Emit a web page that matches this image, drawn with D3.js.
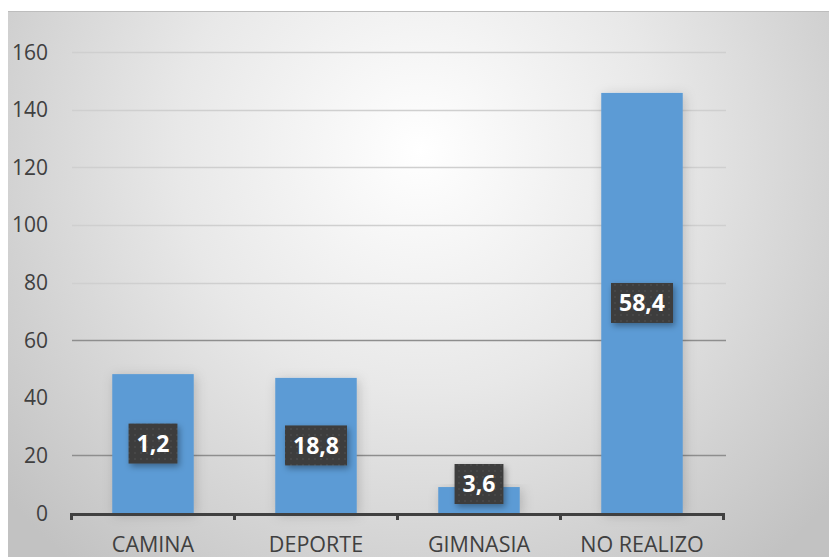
<!DOCTYPE html>
<html>
<head>
<meta charset="utf-8">
<script src="https://cdn.jsdelivr.net/npm/d3@7/dist/d3.min.js"></script>
<style>
html,body{margin:0;padding:0;background:#fff;}
svg{display:block;}
</style>
</head>
<body>
<svg id="chart" width="829" height="557"></svg>
<script>
const categories = ["CAMINA", "DEPORTE", "GIMNASIA", "NO REALIZO"];
const values = [48.2, 46.9, 9.0, 145.8];
const labels = ["1,2", "18,8", "3,6", "58,4"];
const yTicks = [0, 20, 40, 60, 80, 100, 120, 140, 160];
const gridTicks = [20, 60, 80, 100, 120, 140, 160];

const svg = d3.select("#chart");
const W = 829, H = 557;
const defs = svg.append("defs");

const grad = defs.append("radialGradient").attr("id", "bg")
  .attr("gradientUnits", "userSpaceOnUse")
  .attr("cx", 420).attr("cy", 150).attr("r", 540)
  .attr("fx", 420).attr("fy", 150);
grad.append("stop").attr("offset", "0%").attr("stop-color", "#ffffff");
grad.append("stop").attr("offset", "45%").attr("stop-color", "#e8e8e8");
grad.append("stop").attr("offset", "100%").attr("stop-color", "#c2c2c2");

const shadow = defs.append("filter").attr("id", "shadow")
  .attr("x", "-30%").attr("y", "-30%").attr("width", "170%").attr("height", "170%");
shadow.append("feDropShadow").attr("dx", 2).attr("dy", 3).attr("stdDeviation", 3)
  .attr("flood-color", "#000").attr("flood-opacity", 0.35);

const barShadow = defs.append("filter").attr("id", "barShadow")
  .attr("x", "-30%").attr("y", "-10%").attr("width", "160%").attr("height", "120%");
barShadow.append("feDropShadow").attr("dx", 2).attr("dy", 2).attr("stdDeviation", 6)
  .attr("flood-color", "#000").attr("flood-opacity", 0.18);

const pat = defs.append("pattern").attr("id", "dots").attr("patternUnits", "userSpaceOnUse")
  .attr("width", 6).attr("height", 6);
pat.append("rect").attr("width", 6).attr("height", 6).attr("fill", "#3c3c3c");
pat.append("circle").attr("cx", 3).attr("cy", 3).attr("r", 0.8).attr("fill", "#555");

// background
svg.append("rect").attr("x", 8).attr("y", 11).attr("width", W - 8).attr("height", H - 11)
  .attr("fill", "url(#bg)");
svg.append("line").attr("x1", 8).attr("x2", W).attr("y1", 11.5).attr("y2", 11.5)
  .attr("stroke", "#bdbdbd").attr("stroke-width", 1);

const x = d3.scaleBand().domain(categories).range([71.5, 723.5]).paddingInner(0.5).paddingOuter(0.25);
const y = d3.scaleLinear().domain([0, 160]).range([513, 52]);

const font = "'Open Sans', 'Noto Sans', sans-serif";

// gridlines
svg.append("g").selectAll("line").data(gridTicks).join("line")
  .attr("x1", 72).attr("x2", 726)
  .attr("y1", d => Math.round(y(d)) + 0.5).attr("y2", d => Math.round(y(d)) + 0.5)
  .attr("stroke", d => d <= 60 ? "#8e8e8e" : "#cfcfcf").attr("stroke-width", 1.4);

// y labels
svg.append("g").selectAll("text").data(yTicks).join("text")
  .attr("x", 48).attr("y", d => y(d)).attr("dy", "0.36em")
  .attr("text-anchor", "end").attr("fill", "#404040")
  .style("font-family", font).style("font-size", "21px")
  .text(d => d);

// bars
svg.append("g").selectAll("rect").data(categories).join("rect")
  .attr("x", d => x(d)).attr("width", x.bandwidth())
  .attr("y", (d, i) => y(values[i])).attr("height", (d, i) => y(0) - y(values[i]))
  .attr("fill", "#5b9bd5").attr("filter", "url(#barShadow)");

// axis
const axis = d3.axisBottom(x).tickSize(0).tickSizeOuter(0).tickFormat("");
const ax = svg.append("g").attr("transform", `translate(0,${y(0) + 1})`).call(axis);
ax.select(".domain").attr("stroke", "#404040").attr("stroke-width", 3);
const bounds = [71.5, 234.5, 397.5, 560.5, 723.5];
svg.append("g").selectAll("line").data(bounds).join("line")
  .attr("x1", d => d).attr("x2", d => d).attr("y1", y(0)).attr("y2", y(0) + 7)
  .attr("stroke", "#404040").attr("stroke-width", 3);

// x labels
svg.append("g").selectAll("text").data(categories).join("text")
  .attr("x", d => x(d) + x.bandwidth() / 2).attr("y", 552)
  .attr("text-anchor", "middle").attr("fill", "#404040")
  .style("font-family", font).style("font-size", "21.5px")
  .text(d => d);

// data labels
const lg = svg.append("g");
categories.forEach((c, i) => {
  const cx = x(c) + x.bandwidth() / 2;
  let cy = (y(values[i]) + y(0)) / 2;
  cy = Math.min(cy, y(0) - 29);
  const t = lg.append("text")
    .attr("x", cx).attr("y", cy).attr("dy", "0.36em")
    .attr("text-anchor", "middle").attr("fill", "#fff")
    .style("font-family", font).style("font-size", "23px").style("font-weight", "bold")
    .text(labels[i]);
  const bb = t.node().getBBox();
  const bw = bb.width + 16, bh = 40;
  lg.insert("rect", "text")
    .attr("x", cx - bw / 2).attr("y", cy - bh / 2).attr("width", bw).attr("height", bh)
    .attr("fill", "url(#dots)").attr("filter", "url(#shadow)");
});
</script>
</body>
</html>
